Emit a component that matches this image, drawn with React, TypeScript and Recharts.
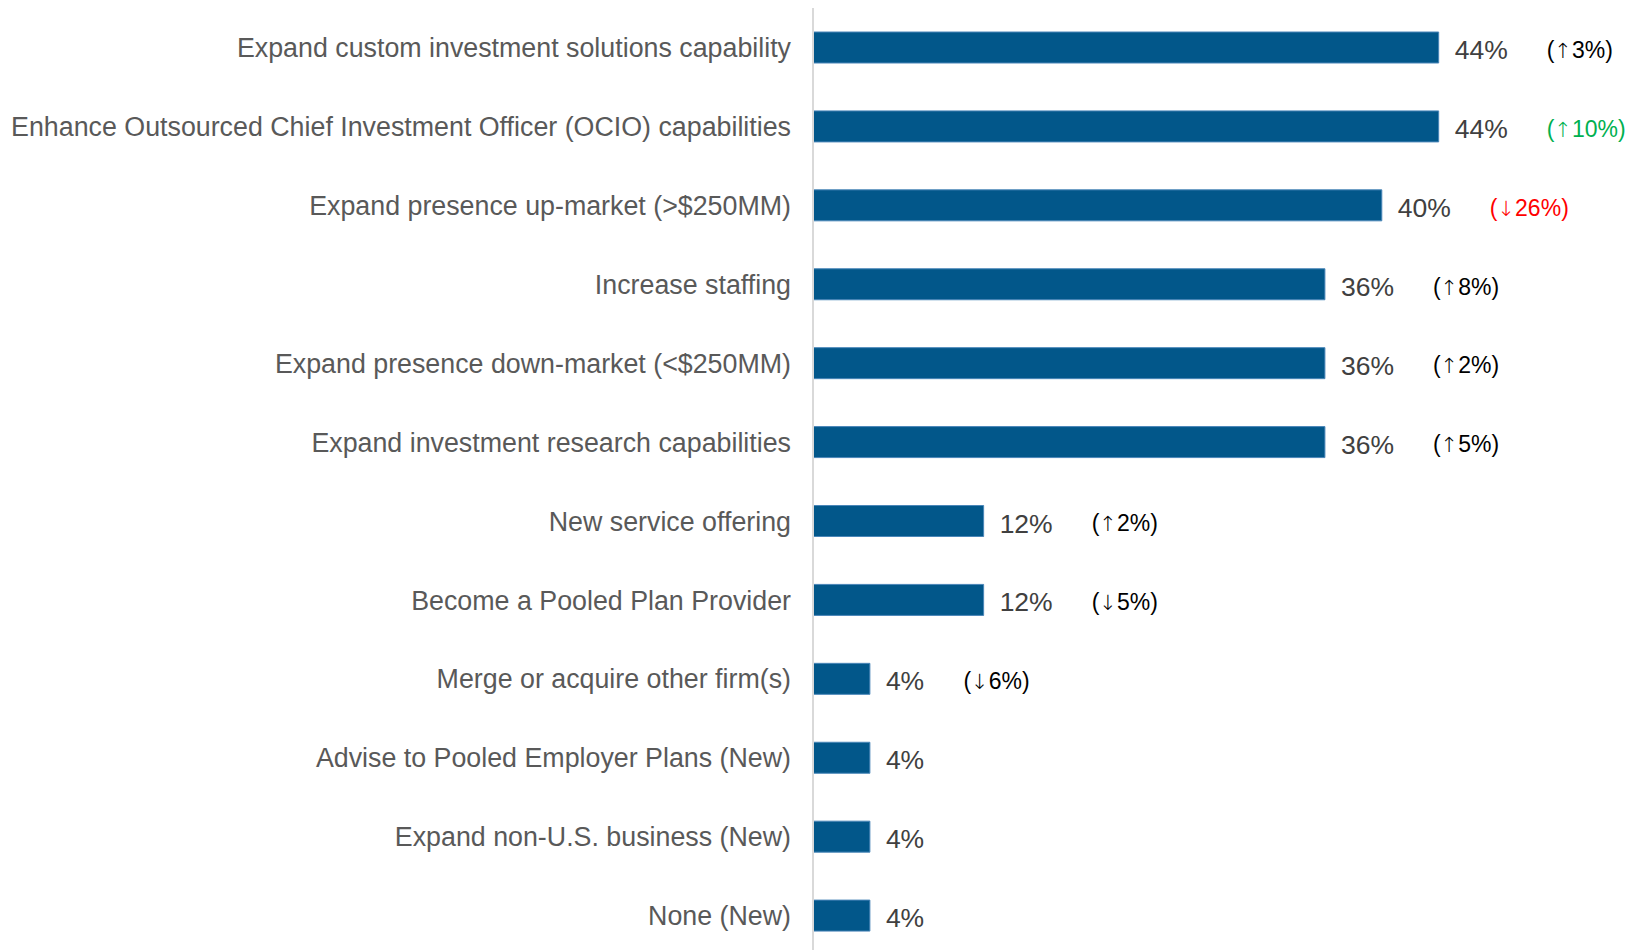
import React from "react";
import { BarChart, Bar, XAxis, YAxis, LabelList } from "recharts";

const categories = [
  "Expand custom investment solutions capability",
  "Enhance Outsourced Chief Investment Officer (OCIO) capabilities",
  "Expand presence up-market (>$250MM)",
  "Increase staffing",
  "Expand presence down-market (<$250MM)",
  "Expand investment research capabilities",
  "New service offering",
  "Become a Pooled Plan Provider",
  "Merge or acquire other firm(s)",
  "Advise to Pooled Employer Plans (New)",
  "Expand non-U.S. business (New)",
  "None (New)",
];

const shares = [44, 44, 40, 36, 36, 36, 12, 12, 4, 4, 4, 4];

// change vs. prior year, blank for new items
const changes = ["↑3%", "↑10%", "↓26%", "↑8%", "↑2%", "↑5%", "↑2%", "↓5%", "↓6%", "", "", ""];

// "up"/"down" = notable move, highlighted; "flat" = plain
const changeTone = ["flat", "up", "down", "flat", "flat", "flat", "flat", "flat", "flat", "", "", ""];

const data = categories.map((name, i) => ({ name, share: shares[i] }));

const toneColor: Record<string, string> = {
  flat: "#000000",
  up: "#00B050",
  down: "#FF0000",
};

const FONT = "'Liberation Sans', Arial, sans-serif";

const CategoryTick = (props: any) => {
  const { x, y, payload } = props;
  return (
    <text
      x={x}
      y={y}
      dy="0.36em"
      textAnchor="end"
      fontFamily={FONT}
      fontSize={26.8}
      fill="#595959"
    >
      {payload.value}
    </text>
  );
};

const ValueLabel = (props: any) => {
  const { x, y, width, height, value, index } = props;
  const lx = x + width + 16;
  const cy = y + height / 2 + 2;
  const labelText = `${value}%`;
  // rough width of the value text so the change note sits after it
  const textW = String(value).length * 14.5 + 23;
  const change = changes[index];
  return (
    <g>
      <text x={lx} y={cy} dy="0.36em" fontFamily={FONT} fontSize={26.5} fill="#404040">
        {labelText}
      </text>
      {change ? (
        <text
          x={lx + textW + 40}
          y={cy}
          dy="0.36em"
          fontFamily={FONT}
          fontSize={23}
          fill={toneColor[changeTone[index]]}
        >
          (
          <tspan fontFamily="'DejaVu Sans'" fontWeight={200} fontSize={21}>
            {change.charAt(0)}
          </tspan>
          {change.slice(1)})
        </text>
      ) : null}
    </g>
  );
};

export default function App() {
  return (
    <div
      style={{
        position: "absolute",
        left: 0,
        top: 0,
        width: 1629,
        height: 950,
        overflow: "hidden",
        background: "#ffffff",
      }}
    >
      <BarChart
        width={1629}
        height={955}
        data={data}
        layout="vertical"
        margin={{ top: 8, right: 105, bottom: 0, left: 0 }}
        barSize={31}
      >
        <XAxis type="number" domain={[0, 50]} hide />
        <YAxis
          type="category"
          dataKey="name"
          width={813}
          tickLine={false}
          tickSize={0}
          tickMargin={22}
          axisLine={{ stroke: "#D9D9D9", strokeWidth: 2 }}
          tick={<CategoryTick />}
          interval={0}
        />
        <Bar
          dataKey="share"
          fill="#02578A"
          stroke="#4A86B8"
          strokeWidth={1}
          isAnimationActive={false}
        >
          <LabelList dataKey="share" content={<ValueLabel />} />
        </Bar>
      </BarChart>
    </div>
  );
}
